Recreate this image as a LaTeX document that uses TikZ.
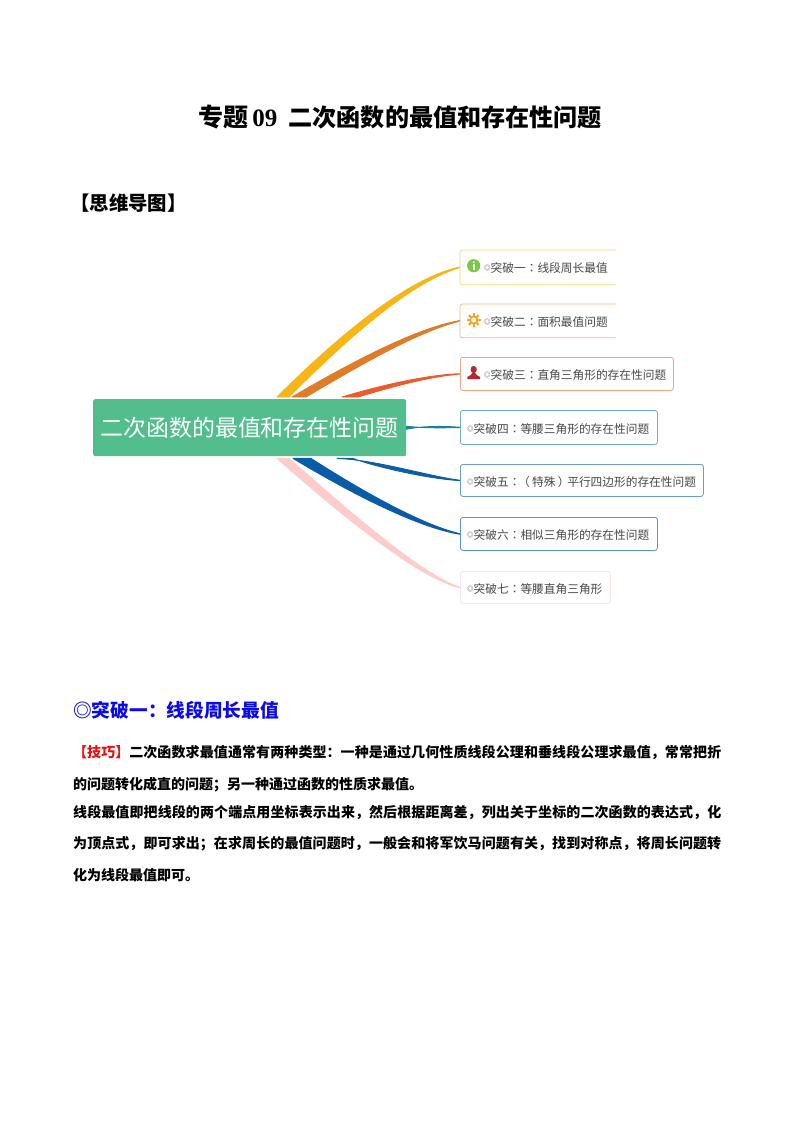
\documentclass[tikz,border=0pt]{standalone}
\usepackage{fontspec}
\usetikzlibrary{calc}
\setmainfont{Liberation Serif}
\newfontfamily\cjk{Noto Sans CJK SC}
\newfontfamily\cjktc{Noto Sans CJK TC}
\XeTeXlinebreaklocale "zh"
\XeTeXlinebreakskip=0pt plus 3pt
\definecolor{ribA}{HTML}{F8B616}
\definecolor{ribB}{HTML}{E07B28}
\definecolor{ribC}{HTML}{EC5B2A}
\definecolor{ribD}{HTML}{1B7FA5}
\definecolor{ribE}{HTML}{0B5FA5}
\definecolor{ribF}{HTML}{0A5CA8}
\definecolor{ribG}{HTML}{FFCCCC}
\definecolor{edgeA}{HTML}{F9D577}
\definecolor{edgeB}{HTML}{F3B98F}
\definecolor{edgeC}{HTML}{F2A58A}
\definecolor{edgeD}{HTML}{6FAFC8}
\definecolor{edgeE}{HTML}{6A9FCC}
\definecolor{edgeF}{HTML}{5A94C8}
\definecolor{edgeG}{HTML}{FFE3E3}
\definecolor{rootgreen}{HTML}{52BE8E}
\definecolor{lbltext}{HTML}{484848}
\definecolor{headblue}{HTML}{0A0AF0}
\definecolor{tipred}{HTML}{F01010}
\definecolor{icongreen}{HTML}{7AC943}
\definecolor{icongear}{HTML}{F5A623}
\definecolor{iconred}{HTML}{B8282C}
\pgfdeclarelayer{back}
\pgfsetlayers{back,main}
\tikzset{
  x=1pt,y=-1pt,
  topic/.style={anchor=north west,inner sep=0,rounded corners=2.5pt,line width=.8pt},
  ribbon/.style={fill=#1,draw=#1,line width=.9pt,line join=round},
  lbl/.style={anchor=west,inner sep=0,text=lbltext,font=\cjk\fontsize{11.7}{14}\selectfont},
  bodyline/.style={anchor=west,inner sep=0,text width=649pt,font=\cjk\bfseries\fontsize{14}{17}\selectfont},
}
\newcommand{\bul}{\raisebox{1.6pt}{\fontsize{6.5}{8}\selectfont ◎}}
\newcommand{\colo}{{\cjktc ：}}
\newcommand{\just}{\tolerance=9999\hbadness=10000\parfillskip=0pt\relax}
\begin{document}
\begin{tikzpicture}
\useasboundingbox (0,0) rectangle (800,1132);
\begin{pgfonlayer}{back}
\fill[white] (0,0) rectangle (800,1132);
\end{pgfonlayer}

\node[anchor=west,inner sep=0,font=\bfseries\fontsize{25}{30}\selectfont] (title) at (198,117)
  {{\cjk 专题}\,09\hspace{.45em}{\cjk\fontsize{24.1}{30}\selectfont 二次函数的最值和存在性问题}};
\node[anchor=west,inner sep=0,font=\cjk\bfseries\fontsize{19.4}{24}\selectfont] (map) at (70,203) {【思维导图】};

% central topic
\node[anchor=north west,fill=rootgreen,inner sep=0,minimum width=313pt,minimum height=57pt,rounded corners=2pt] (root) at (93,399) {};
\node[inner sep=0,text=white,font=\cjk\fontsize{22.9}{28}\selectfont] (roottext) at (249.5,428) {二次函数的最值和存在性问题};

% topic boxes
\node[topic,minimum width=155pt,minimum height=34pt] (b1) at (460,250) {};
\node[topic,minimum width=155pt,minimum height=33pt] (b2) at (460,304) {};
\node[topic,draw=edgeC,minimum width=213pt,minimum height=33pt] (b3) at (460,357) {};
\node[topic,draw=edgeD,minimum width=197pt,minimum height=34pt] (b4) at (460,410) {};
\node[topic,draw=edgeE,minimum width=243pt,minimum height=32pt] (b5) at (460,464) {};
\node[topic,draw=edgeF,minimum width=197pt,minimum height=33pt] (b6) at (460,517) {};
\node[topic,draw=edgeG,minimum width=150pt,minimum height=32pt] (b7) at (460,571) {};
\draw[edgeA,line width=.8pt,rounded corners=2.5pt] (b1.north east) -- (b1.north west) -- (b1.south west) -- (b1.south east);
\draw[edgeB,line width=.8pt,rounded corners=2.5pt] (b2.north east) -- (b2.north west) -- (b2.south west) -- (b2.south east);

\node[lbl] (t1) at (484,268) {\bul 突破一\colo 线段周长最值};
\node[lbl] (t2) at (484,322) {\bul 突破二\colo 面积最值问题};
\node[lbl] (t3) at (484,375) {\bul 突破三\colo 直角三角形的存在性问题};
\node[lbl] (t4) at (467,429) {\bul 突破四\colo 等腰三角形的存在性问题};
\node[lbl] (t5) at (467,482) {\bul 突破五\colo\hspace*{-.2em}（\hspace{.2em}特殊\hspace{.2em}）\hspace{-.2em}平行四边形的存在性问题};
\node[lbl] (t6) at (467,535) {\bul 突破六\colo 相似三角形的存在性问题};
\node[lbl] (t7) at (467,589) {\bul 突破七\colo 等腰直角三角形};

% connectors: tapered ribbons from the central topic to each box
\begin{pgfonlayer}{back}
\coordinate (ra) at ([xshift=190pt,yshift=2pt]root.north west);
\draw[ribbon=ribA] ($(ra)+(-6,0)$) .. controls (342.2,332.2) and (409,278) .. ($(b1.west)+(-.5,-.3)$)
            -- ($(b1.west)+(-.5,.3)$) .. controls (411,282) and (347.8,337.8) .. ($(ra)+(6,0)$) -- cycle;
\coordinate (rb) at ([xshift=206pt,yshift=2pt]root.north west);
\draw[ribbon=ribB] ($(rb)+(-7,0)$) .. controls (343.2,367) and (414.3,328.2) .. ($(b2.west)+(-.5,-.3)$)
            -- ($(b2.west)+(-.5,.3)$) .. controls (415.7,331.8) and (346.8,373) .. ($(rb)+(7,0)$) -- cycle;
\coordinate (rc) at ([xshift=257pt,yshift=2pt]root.north west);
\draw[ribbon=ribC] ($(rc)+(-8,0)$) .. controls (378,386.2) and (425,375) .. ($(b3.west)+(-.5,-.2)$)
            -- ($(b3.west)+(-.5,.2)$) .. controls (425,377) and (382,389.8) .. ($(rc)+(8,0)$) -- cycle;
\draw[ribbon=ribD] ([yshift=-1.5pt]root.east) .. controls (425,425.6) and (445,426.2) .. ($(b4.west)+(-.5,-.2)$)
            -- ($(b4.west)+(-.5,.2)$) .. controls (445,427.8) and (425,428.4) .. ([yshift=1.5pt]root.east) -- cycle;
\coordinate (re) at ([xshift=252pt,yshift=-2pt]root.south west);
\draw[ribbon=ribE] ($(re)+(-8,0)$) .. controls (377,460) and (425,475.5) .. ($(b5.west)+(-.5,-.2)$)
            -- ($(b5.west)+(-.5,.2)$) .. controls (425,478.5) and (373,466) .. ($(re)+(8,0)$) -- cycle;
\coordinate (rf) at ([xshift=209pt,yshift=-2pt]root.south west);
\draw[ribbon=ribF] ($(rf)+(-9,0)$) .. controls (343,488.5) and (414.3,526.8) .. ($(b6.west)+(-.5,.3)$)
            -- ($(b6.west)+(-.5,-.3)$) .. controls (415.7,523.2) and (347,481.5) .. ($(rf)+(9,0)$) -- cycle;
\coordinate (rg) at ([xshift=190pt,yshift=-2pt]root.south west);
\draw[ribbon=ribG] ($(rg)+(-6,0)$) .. controls (322,498) and (413.5,577) .. ($(b7.west)+(-.5,.3)$)
            -- ($(b7.west)+(-.5,-.3)$) .. controls (416.5,573) and (328,492) .. ($(rg)+(6,0)$) -- cycle;
\end{pgfonlayer}

% icons
\fill[icongreen] (473.7,265.7) circle (6.6);
\fill[white] (473.7,262.2) circle (1);
\fill[white] (472.9,264.4) rectangle (474.5,270);
\begin{scope}[shift={(473.7,320)}]
  \foreach \a in {0,45,...,315} \draw[icongear,line width=2pt] (\a:3.5) -- (\a:6.8);
  \draw[icongear,line width=1.8pt,fill=white] (0,0) circle (3.6);
\end{scope}
\begin{scope}[shift={(473.7,372.7)}]
  \fill[iconred] (0,-3.2) ellipse (3.1 and 3.6);
  \fill[iconred] (-6.3,6.3) -- (-6.3,4.2) .. controls (-4,2.6) and (-2,2.6) .. (-1.2,0) -- (1.2,0) .. controls (2,2.6) and (4,2.6) .. (6.3,4.2) -- (6.3,6.3) -- cycle;
\end{scope}

% section
\node[anchor=west,inner sep=0,text=headblue,font=\cjk\bfseries\fontsize{18.7}{23}\selectfont] (head) at (73,710) {◎突破一：线段周长最值};
\node[bodyline] (l1) at (73,752) {\just{\color{tipred}【技巧】}二次函数求最值通常有两种类型：一种是通过几何性质线段公理和垂线段公理求最值，常常把折\par};
\node[bodyline,text width=360pt] (l2) at (73,785) {\raggedright 的问题转化成直的问题；另一种通过函数的性质求最值。\par};
\node[bodyline] (l3) at (73,812) {\just 线段最值即把线段的两个端点用坐标表示出来，然后根据距离差，列出关于坐标的二次函数的表达式，化\par};
\node[bodyline] (l4) at (73,844) {\just 为顶点式，即可求出；在求周长的最值问题时，一般会和将军饮马问题有关，找到对称点，将周长问题转\par};
\node[bodyline,text width=200pt] (l5) at (73,875) {\raggedright 化为线段最值即可。\par};
\end{tikzpicture}
\end{document}
